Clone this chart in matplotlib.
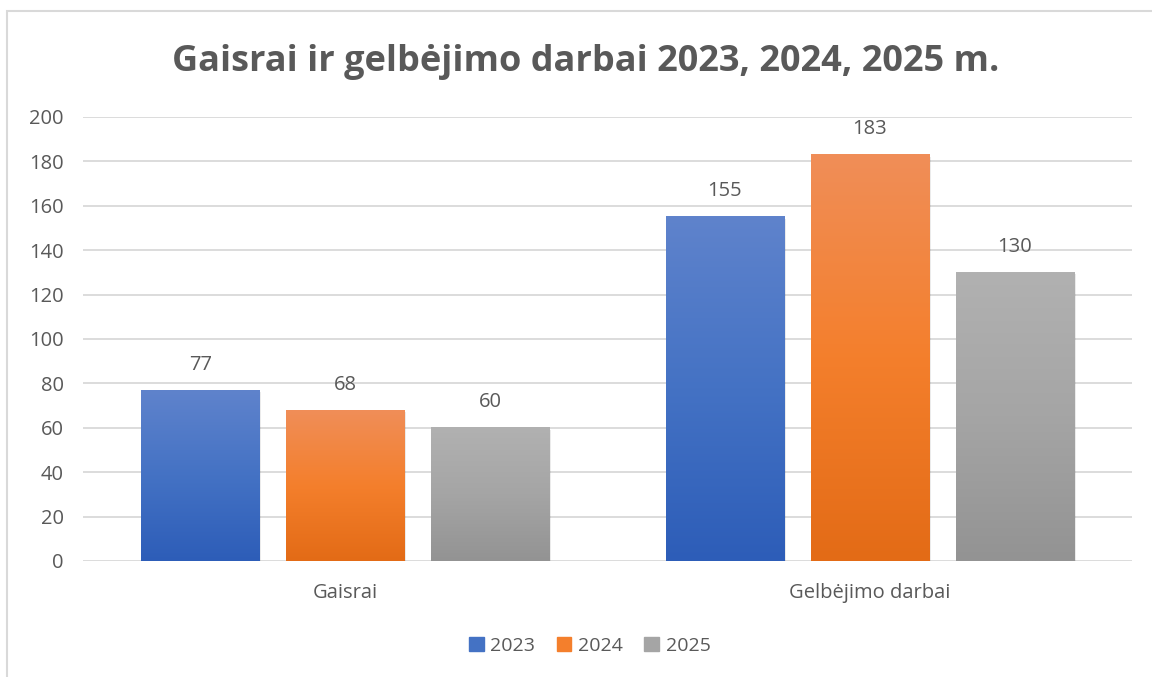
import numpy as np
import matplotlib.pyplot as plt
from matplotlib.patches import Rectangle
from matplotlib.colors import LinearSegmentedColormap

plt.rcParams['font.family'] = ['Open Sans', 'DejaVu Sans']

# data
categories = ['Gaisrai', 'Gelbėjimo darbai']
years = ['2023', '2024', '2025']
values_2023 = [77, 155]
values_2024 = [68, 183]
values_2025 = [60, 130]
series = [values_2023, values_2024, values_2025]

# gradient colours (top, middle, bottom)
grads = [('#5f83cc', '#4472c4', '#2d5db8'),
         ('#f08e58', '#f47f2c', '#e36b16'),
         ('#b1b1b1', '#a5a5a5', '#939393')]
text_col = '#595959'

fig = plt.figure(figsize=(11.52, 6.77), dpi=100)
fig.patches.append(Rectangle((7 / 1152, -0.1), 1.2, 1 - 11 / 677 + 0.1,
                             transform=fig.transFigure, fill=False,
                             edgecolor='#d9d9d9', linewidth=1.5))
ax = fig.add_axes([83 / 1152, 1 - 561 / 677, (1132 - 83) / 1152, (561 - 117) / 677])

x = np.arange(len(categories))
width = 0.225
pitch = 0.2765
for i, (vals, (ctop, cmid, cbot)) in enumerate(zip(series, grads)):
    pos = x + (i - 1) * pitch
    cmap = LinearSegmentedColormap.from_list('g%d' % i, [cbot, cmid, ctop])
    bars = ax.bar(pos, vals, width, color=cbot, label=years[i], zorder=2)
    for b, v in zip(bars, vals):
        # soft shadow
        ax.add_patch(Rectangle((b.get_x() + 0.004, -0.8), b.get_width(), v, color='#000000',
                               alpha=0.08, zorder=1.5, linewidth=0))
        grad = np.linspace(0, 1, 256).reshape(-1, 1)
        ax.imshow(grad, cmap=cmap, origin='lower', aspect='auto', zorder=2.1,
                  extent=(b.get_x(), b.get_x() + b.get_width(), 0, v))
        ax.text(b.get_x() + b.get_width() / 2, v + 7, str(v), ha='center', va='bottom',
                fontsize=14.5, color=text_col)

ax.set_xlim(-0.5, 1.5)
ax.set_ylim(0, 200)
ax.set_yticks(range(0, 201, 20))
ax.set_xticks(x)
ax.set_xticklabels(categories)
ax.grid(axis='y', color='#d9d9d9', linewidth=1.3, zorder=0)
ax.set_axisbelow(True)
for s in ax.spines.values():
    s.set_visible(False)
ax.tick_params(length=0, labelsize=14.5, labelcolor=text_col)
ax.tick_params(axis='x', pad=16)
ax.tick_params(axis='y', pad=14)
for lbl in ax.get_yticklabels():
    lbl.set_horizontalalignment('right')

fig.text(0.508, 1 - 62 / 677, 'Gaisrai ir gelbėjimo darbai 2023, 2024, 2025 m.',
         ha='center', va='center', fontsize=26, fontweight='bold', color=text_col)

handles = [Rectangle((0, 0), 1, 1, color=c[1]) for c in grads]
fig.legend(handles, years, loc='center', bbox_to_anchor=(0.512, 1 - 646 / 677), ncol=3,
           frameon=False, fontsize=14, handlelength=0.75, handleheight=0.75,
           handletextpad=0.35, columnspacing=1.1, labelcolor=text_col)

fig.savefig('out.png', dpi=100)
